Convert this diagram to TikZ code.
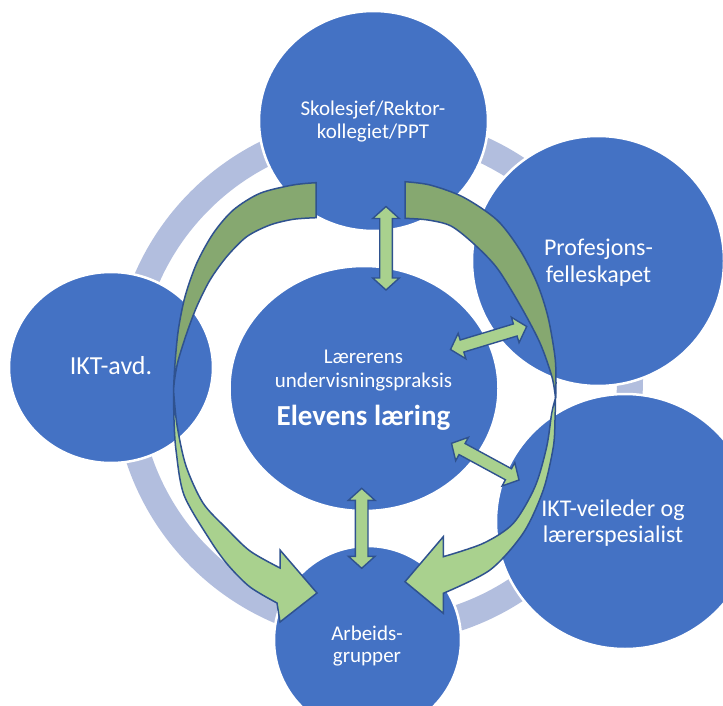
\documentclass[tikz,border=0pt]{standalone}
\usepackage{fontspec}
\setmainfont{Carlito}
\usetikzlibrary{calc,shapes.geometric}
\definecolor{bubble}{RGB}{68,114,196}
\definecolor{ringc}{RGB}{178,190,222}
\definecolor{glight}{RGB}{169,209,142}
\definecolor{gdark}{RGB}{134,168,112}
\definecolor{edgec}{RGB}{47,82,143}
\newcommand{\noskiplim}{\lineskiplimit-100pt\relax}
\newcommand{\dblarr}[2]{%
\filldraw[dbl] (#1)
 -- ($(#1)!12pt!(#2)!13.3pt!90:(#2)$)
 -- ($(#1)!12pt!(#2)!6.3pt!90:(#2)$)
 -- ($(#2)!12pt!(#1)!6.3pt!-90:(#1)$)
 -- ($(#2)!12pt!(#1)!13.3pt!-90:(#1)$)
 -- (#2)
 -- ($(#2)!12pt!(#1)!13.3pt!90:(#1)$)
 -- ($(#2)!12pt!(#1)!6.3pt!90:(#1)$)
 -- ($(#1)!12pt!(#2)!6.3pt!-90:(#2)$)
 -- ($(#1)!12pt!(#2)!13.3pt!-90:(#2)$)
 -- cycle;}
\begin{document}
\begin{tikzpicture}[x=1pt,y=-1pt,
 bub/.style={ellipse, fill=bubble, draw=white, line width=2.5pt, inner sep=0pt},
 lbl/.style={text=white, align=center, inner sep=0pt},
 garrow/.style={draw=edgec, line width=1.5pt, line join=miter},
 dbl/.style={fill=glight, draw=edgec, line width=1.4pt, line join=miter}]
\clip (0,0) rectangle (723,706);
\fill[white] (0,0) rectangle (723,706);
% background ring
\draw[ringc, line width=26pt] (378,379) circle [radius=252];
% circles
\node[bub, minimum width=229pt, minimum height=220pt] (skole) at (373.5,121) {};
\node[bub, minimum width=252pt, minimum height=250pt] (prof) at (598,261) {};
\node[bub, minimum width=258pt, minimum height=255pt] (iktv) at (625,521.5) {};
\node[bub, minimum width=204pt, minimum height=191pt] (iktavd) at (111,367.5) {};
\node[bub, minimum width=269pt, minimum height=245pt] (elev) at (364,388.5) {};
\node[bub, minimum width=187pt, minimum height=188pt] (arb) at (367.5,640) {};
% labels
\node[lbl, font=\fontsize{21}{23}\selectfont] (tskole) at (373,122) {Skolesjef/Rektor-\\kollegiet/PPT};
\node[lbl, font=\fontsize{24}{26.5}\selectfont] (tprof) at (598.5,262.5) {Profesjons-\\felleskapet};
\node[lbl, font=\fontsize{24}{25.7}\selectfont] (tiktv) at (613,523) {IKT-veileder og\\lærerspesialist};
\node[lbl, font=\fontsize{26}{28}\selectfont] (tiktavd) at (111,366) {IKT-avd.};
\node[lbl, font=\fontsize{21}{22.5}\selectfont] (tarb) at (367,646) {Arbeids-\\grupper};
\node[lbl, font=\fontsize{21}{23.4}\selectfont\noskiplim] (telev) at (363.5,390.3)
 {Lærerens\\undervisningspraksis\\[14.9pt]{\fontsize{29}{23.4}\selectfont\bfseries Elevens læring}};
% left curved arrow
\filldraw[garrow, fill=gdark] (316,182.7) -- (316,217.7)
 -- plot[smooth] coordinates {(316,217.7) (293.3,219.3) (270,225) (246.7,236.7) (226.7,256.7) (210,280) (196.7,306.7) (186.7,333.3) (178.3,360) (175,376.7) (173.5,390)}
 -- plot[smooth] coordinates {(173.5,390) (175,363.3) (178.3,330) (185,296.7) (196.7,263.3) (213.3,233.3) (233.3,210) (260,193.3) (293,185) (316,182.7)}
 -- cycle;
\filldraw[garrow, fill=glight] (173.5,390)
 -- plot[smooth] coordinates {(173.5,390) (174,420) (176,450) (184,495) (210,540) (228,565) (250,587) (277,603)}
 -- (280,622) -- (317,593) -- (280,550) -- (280,568)
 -- plot[smooth] coordinates {(280,568) (250,551) (226,528) (203,503) (186,466) (177,425) (173.5,390)}
 -- cycle;
% right curved arrow
\filldraw[garrow, fill=gdark] (405,181.7) -- (405,218.3)
 -- plot[smooth] coordinates {(405,218.3) (428,220) (451,226) (474,244) (497,268) (520,305) (540,343) (552,377) (555.5,398)}
 -- plot[smooth] coordinates {(555.5,398) (556,383) (555,357) (548,317) (537,283) (520,250) (497,220) (463,197) (430,185) (405,181.7)}
 -- cycle;
\filldraw[garrow, fill=glight] (555.5,398)
 -- plot[smooth] coordinates {(555.5,398) (555,420) (553.3,447) (543.3,490) (523.3,533) (490,570) (443.3,593.3)}
 -- (443.3,613.3) -- (405,581.7) -- (443.3,536.7) -- (443.3,556.7)
 -- plot[smooth] coordinates {(443.3,556.7) (483.3,543.3) (513.3,523.3) (535,486.7) (546.7,446.7) (551.7,413.3) (555.5,398)}
 -- cycle;
% straight double arrows
\coordinate (a1) at (386,206.5); \coordinate (a2) at (386,290);
\coordinate (b1) at (361.7,488.3); \coordinate (b2) at (361.7,568.3);
\coordinate (c1) at (450.5,349.5); \coordinate (c2) at (526.7,326.5);
\coordinate (d1) at (451.5,443.3); \coordinate (d2) at (519,480);
\dblarr{a1}{a2}
\dblarr{b1}{b2}
\dblarr{c1}{c2}
\dblarr{d1}{d2}
\end{tikzpicture}
\end{document}
